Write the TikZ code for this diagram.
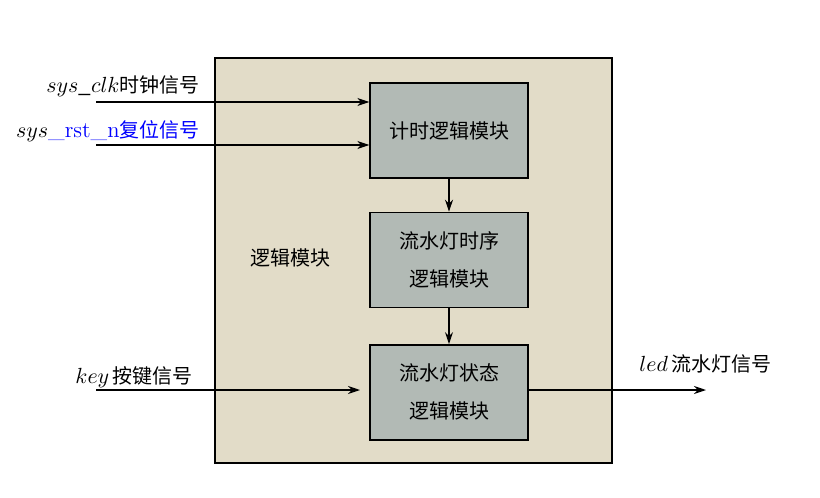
\documentclass[tikz,border=0pt]{standalone}
\usepackage{fontspec}
\usepackage{tikz}
\usetikzlibrary{positioning, arrows.meta}
\usepackage{xcolor}
\newfontfamily\cjk{Noto Sans CJK SC}
\newcommand{\sigmath}[1]{{\fontsize{11.3pt}{13pt}\selectfont$#1$}}
\definecolor{outerfill}{RGB}{226,220,200}
\definecolor{modfill}{RGB}{178,186,181}
\tikzset{
  outerbox/.style={rectangle, draw=black, fill=outerfill, line width=0.7pt,
                   minimum width=198.5pt, minimum height=202.5pt},
  modbox/.style={rectangle, draw=black, fill=modfill, line width=0.7pt,
                 minimum width=79pt, minimum height=47.5pt,
                 align=center, font=\cjk},
  sig/.style={font=\cjk, inner sep=0pt},
  arr/.style={-{Stealth[length=6pt, width=4pt]}, line width=0.6pt},
}
\begin{document}
\begin{tikzpicture}[x=0.5pt, y=-0.5pt, node distance=17pt]
  \useasboundingbox (0,0) rectangle (820,498);
  \node[outerbox] (top) at (413.5,260.5) {};
  \node[sig] (toplbl) at (290,258) {逻辑模块};
  \node[modbox] (cnt) at (449,130.5) {计时逻辑模块};
  \node[modbox, below=16.5pt of cnt] (tim) {流水灯时序\\[7pt]逻辑模块};
  \node[modbox, below=18pt of tim] (sta) {流水灯状态\\[7pt]逻辑模块};
  \draw[arr] (cnt) -- (tim); \draw[arr] (tim) -- (sta);
  % inputs
  \coordinate (clkin) at (96,102);
  \coordinate (rstin) at (96,145);
  \coordinate (keyin) at (96,390);
  \coordinate (keyend) at (360,390);
  \coordinate (ledout) at (706,390);
  \draw[arr] (clkin) -- (clkin -| cnt.west);
  \draw[arr] (rstin) -- (rstin -| cnt.west);
  \draw[arr] (keyin) -- (keyend);
  \draw[arr] (keyend -| sta.east) -- (ledout);
  \node[sig, anchor=base east] (clklbl) at (200,92) {\sigmath{sys\_clk}时钟信号};
  \node[sig, anchor=base east] (rstlbl) at (200,137)
       {\sigmath{sys}\textcolor{blue}{{\rmfamily\fontsize{11.3pt}{13pt}\selectfont\_rst\_n}复位信号}};
  \node[sig, anchor=base east] (keylbl) at (193,383) {\sigmath{key}\,按键信号};
  \node[sig, anchor=base west] (ledlbl) at (639,371) {\sigmath{led}\,流水灯信号};
\end{tikzpicture}
\end{document}
